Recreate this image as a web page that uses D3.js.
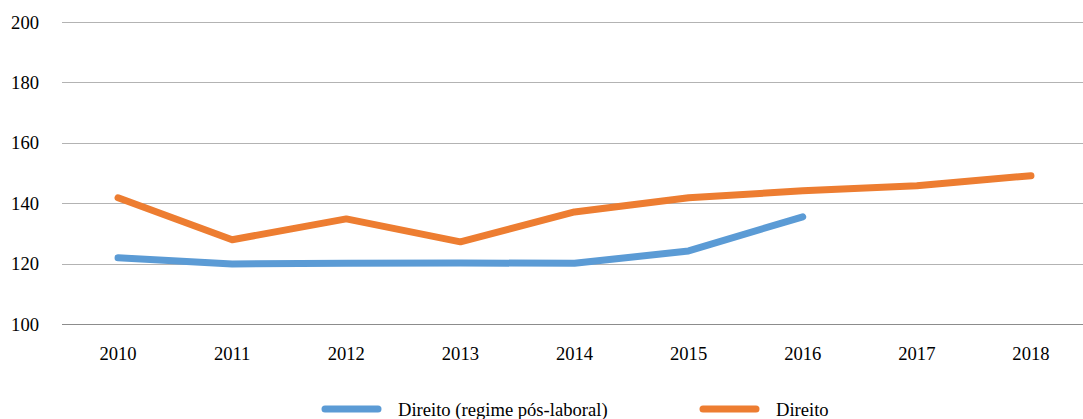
<!DOCTYPE html>
<html>
<head>
<meta charset="utf-8">
<script src="https://cdn.jsdelivr.net/npm/d3@7"></script>
<style>
  body { margin: 0; background: #fff; }
  svg text { font-family: "Liberation Serif", "Times New Roman", serif; font-size: 18.6px; fill: #000; }
</style>
</head>
<body>
<div id="chart"></div>
<script>
const years = ["2010", "2011", "2012", "2013", "2014", "2015", "2016", "2017", "2018"];
const direitoPosLaboral = [121.9, 119.9, 120.1, 120.2, 120.1, 124.2, 135.5];
const direito = [141.8, 127.9, 134.8, 127.2, 137.1, 141.8, 144.1, 145.8, 149.1];
const yTicks = [100, 120, 140, 160, 180, 200];
const seriesNames = ["Direito (regime pós-laboral)", "Direito"];
const seriesColors = ["#5B9BD5", "#ED7D31"];

const width = 1083, height = 419;
const svg = d3.select("#chart").append("svg")
  .attr("width", width)
  .attr("height", height);

const x = d3.scaleBand()
  .domain(years)
  .range([61, 1088]);

const y = d3.scaleLinear()
  .domain([100, 200])
  .range([324, 22]);

// gridlines
svg.append("g")
  .selectAll("line")
  .data(yTicks)
  .join("line")
  .attr("x1", 62)
  .attr("x2", width)
  .attr("y1", d => Math.round(y(d)) + 0.5)
  .attr("y2", d => Math.round(y(d)) + 0.5)
  .attr("stroke", d => d === 100 ? "#8c8c8c" : "#b3b3b3")
  .attr("stroke-width", 1);

// y labels
svg.append("g")
  .selectAll("text")
  .data(yTicks)
  .join("text")
  .attr("x", 39)
  .attr("y", d => y(d))
  .attr("dy", "0.35em")
  .attr("text-anchor", "end")
  .text(d => d);

// x labels
svg.append("g")
  .selectAll("text")
  .data(years)
  .join("text")
  .attr("x", d => x(d) + x.bandwidth() / 2)
  .attr("y", 360)
  .attr("text-anchor", "middle")
  .text(d => d);

const line = d3.line()
  .x(d => x(d[0]) + x.bandwidth() / 2)
  .y(d => y(d[1]));

const series = [direitoPosLaboral, direito];
series.forEach((vals, i) => {
  svg.append("path")
    .datum(vals.map((v, j) => [years[j], v]))
    .attr("d", line)
    .attr("fill", "none")
    .attr("stroke", seriesColors[i])
    .attr("stroke-width", 7)
    .attr("stroke-linecap", "round")
    .attr("stroke-linejoin", "round");
});

// legend
const legendX = [322, 700];
const legend = svg.append("g")
  .selectAll("g")
  .data(seriesNames)
  .join("g")
  .attr("transform", (d, i) => `translate(${legendX[i]},409)`);

legend.append("line")
  .attr("x1", 3).attr("x2", 56)
  .attr("y1", 0).attr("y2", 0)
  .attr("stroke", (d, i) => seriesColors[i])
  .attr("stroke-width", 7)
  .attr("stroke-linecap", "round");

legend.append("text")
  .attr("x", 76)
  .attr("y", 0)
  .attr("dy", "0.35em")
  .text(d => d);
</script>
</body>
</html>
